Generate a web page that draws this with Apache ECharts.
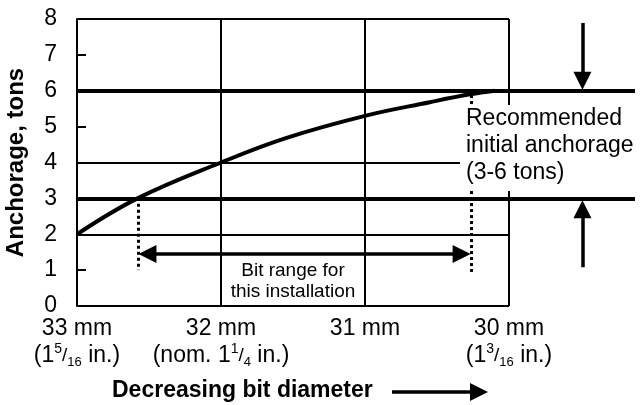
<!DOCTYPE html>
<html>
<head>
<meta charset="utf-8">
<script src="https://cdn.jsdelivr.net/npm/echarts@6/dist/echarts.min.js"></script>
<style>
  html, body { margin: 0; padding: 0; background: #fff; }
  #chart { width: 641px; height: 405px; }
</style>
</head>
<body>
<div id="chart"></div>
<script>
// anchorage vs bit diameter
const diameterMm = [33, 32.58, 32, 31.55, 31, 30.55, 30.27, 30.1];
const anchorageTons = [2, 3, 4, 4.68, 5.3, 5.68, 5.9, 6];

const xTicks = [33, 32, 31, 30];
const mmLabels = ['33 mm', '32 mm', '31 mm', '30 mm'];
const inchLabels = [
  '{p|(1}{sup|5}{sl|/}{sub|16}{p| in.)}',
  '{p|(nom. 1}{sup|1}{sl|/}{sub|4}{p| in.)}',
  '',
  '{p|(1}{sup|3}{sl|/}{sub|16}{p| in.)}'
];

const thinLevels = [2, 4];
const thickLevels = [3, 6];      // recommended 3-6 tons
const gridDiameters = [32, 31];
const bitRange = [32.576, 30.264];

const xMin = 29.125, xMax = 33, xEnd = 30;
const font = 'Liberation Sans, Arial, sans-serif';
const black = '#000';

var chart = echarts.init(document.getElementById('chart'));

var frameLines = [
  [{ coord: [xMax, 8] }, { coord: [xEnd, 8] }],
  [{ coord: [xMax, 0] }, { coord: [xEnd, 0] }],
  [{ coord: [xEnd, 0] }, { coord: [xEnd, 8] }]
];
thinLevels.forEach(function (v) {
  frameLines.push([{ coord: [xMax, v] }, { coord: [xEnd, v] }]);
});
gridDiameters.forEach(function (d) {
  frameLines.push([{ coord: [d, 0] }, { coord: [d, 8] }]);
});

var thickLines = thickLevels.map(function (v) {
  return [{ coord: [xMax, v] }, { coord: [xMin, v] }];
});

var dottedLines = [
  [{ coord: [bitRange[0], 2.85] }, { coord: [bitRange[0], 1.0] }],
  [{ coord: [bitRange[1], 5.88] }, { coord: [bitRange[1], 0.95] }]
];

// triangle heads are centred on the end point, so ends sit half a head short of the tip
var arrowLines = [
  [{ coord: [29.49, 7.89] }, { coord: [29.49, 6.28] }],
  [{ coord: [29.49, 1.08] }, { coord: [29.49, 2.7] }],
  [{ coord: [bitRange[0] - 0.065, 1.45], symbol: 'triangle' }, { coord: [bitRange[1] + 0.065, 1.45] }],
  [{ x: 392, y: 392 }, { x: 479, y: 392 }]
];

var option = {
  animation: false,
  grid: { left: 77, right: 6, top: 19, bottom: 99, outerBoundsMode: 'none', containLabel: false },
  xAxis: {
    type: 'value',
    inverse: true,
    min: xMin,
    max: xMax,
    axisLine: { show: false },
    axisTick: { show: false },
    splitLine: { show: false },
    axisLabel: {
      customValues: xTicks,
      margin: 9,
      color: black,
      fontFamily: font,
      formatter: function (val) {
        var i = xTicks.indexOf(val);
        var s = '{mm|' + mmLabels[i] + '}';
        if (inchLabels[i]) s += '\n' + inchLabels[i];
        return s;
      },
      rich: {
        mm: { fontSize: 23, lineHeight: 27, fontFamily: font, color: black },
        p: { fontSize: 23, lineHeight: 27, fontFamily: font, color: black },
        sl: { fontSize: 19, lineHeight: 27, fontFamily: font, color: black },
        sup: { fontSize: 14, lineHeight: 16, verticalAlign: 'top', fontFamily: font, color: black },
        sub: { fontSize: 13, lineHeight: 14, verticalAlign: 'bottom', fontFamily: font, color: black }
      }
    }
  },
  yAxis: {
    type: 'value',
    min: 0,
    max: 8,
    interval: 1,
    name: 'Anchorage, tons',
    nameLocation: 'middle',
    nameGap: 49,
    nameTextStyle: { fontWeight: 'bold', fontSize: 24, fontFamily: font, color: black },
    axisLine: { show: true, lineStyle: { color: black, width: 2 } },
    axisTick: { show: true, inside: true, length: 9, lineStyle: { color: black, width: 2 } },
    splitLine: { show: false },
    axisLabel: { margin: 20, fontSize: 23, fontFamily: font, color: black }
  },
  series: [
    {
      type: 'line',
      data: [],
      silent: true,
      markLine: {
        silent: true,
        symbol: 'none',
        label: { show: false },
        lineStyle: { color: black, width: 2, type: 'solid' },
        data: frameLines
      }
    },
    {
      type: 'line',
      data: [],
      silent: true,
      markLine: {
        silent: true,
        symbol: 'none',
        label: { show: false },
        lineStyle: { color: black, width: 4, type: 'solid' },
        data: thickLines
      }
    },
    {
      type: 'line',
      data: [],
      silent: true,
      markLine: {
        silent: true,
        symbol: 'none',
        label: { show: false },
        lineStyle: { color: black, width: 3, type: [3, 3] },
        data: dottedLines
      }
    },
    {
      type: 'line',
      data: [],
      silent: true,
      markLine: {
        silent: true,
        symbol: ['none', 'triangle'],
        symbolSize: [18, 18],
        label: { show: false },
        lineStyle: { color: black, width: 3.5, type: 'solid' },
        itemStyle: { color: black },
        data: arrowLines
      }
    },
    {
      type: 'line',
      z: 5,
      data: diameterMm.map(function (d, i) { return [d, anchorageTons[i]]; }),
      smooth: 0.4,
      showSymbol: false,
      lineStyle: { color: black, width: 4 }
    }
  ],
  graphic: [
    {
      type: 'rect',
      z: 50,
      shape: { x: 460, y: 105, width: 178, height: 86 },
      style: { fill: '#fff' }
    },
    {
      type: 'text',
      z: 51,
      left: 466,
      top: 105,
      style: {
        text: 'Recommended\ninitial anchorage\n(3-6 tons)',
        fontSize: 23,
        lineHeight: 27,
        fontFamily: font,
        fill: black
      }
    },
    {
      type: 'text',
      z: 51,
      x: 293,
      y: 260,
      style: {
        text: 'Bit range for\nthis installation',
        fontSize: 19,
        lineHeight: 21,
        align: 'center',
        fontFamily: font,
        fill: black
      }
    },
    {
      type: 'text',
      z: 51,
      x: 112,
      y: 391,
      style: {
        text: 'Decreasing bit diameter',
        fontSize: 23,
        fontWeight: 'bold',
        verticalAlign: 'middle',
        fontFamily: font,
        fill: black
      }
    }
  ]
};

chart.setOption(option);
</script>
</body>
</html>
